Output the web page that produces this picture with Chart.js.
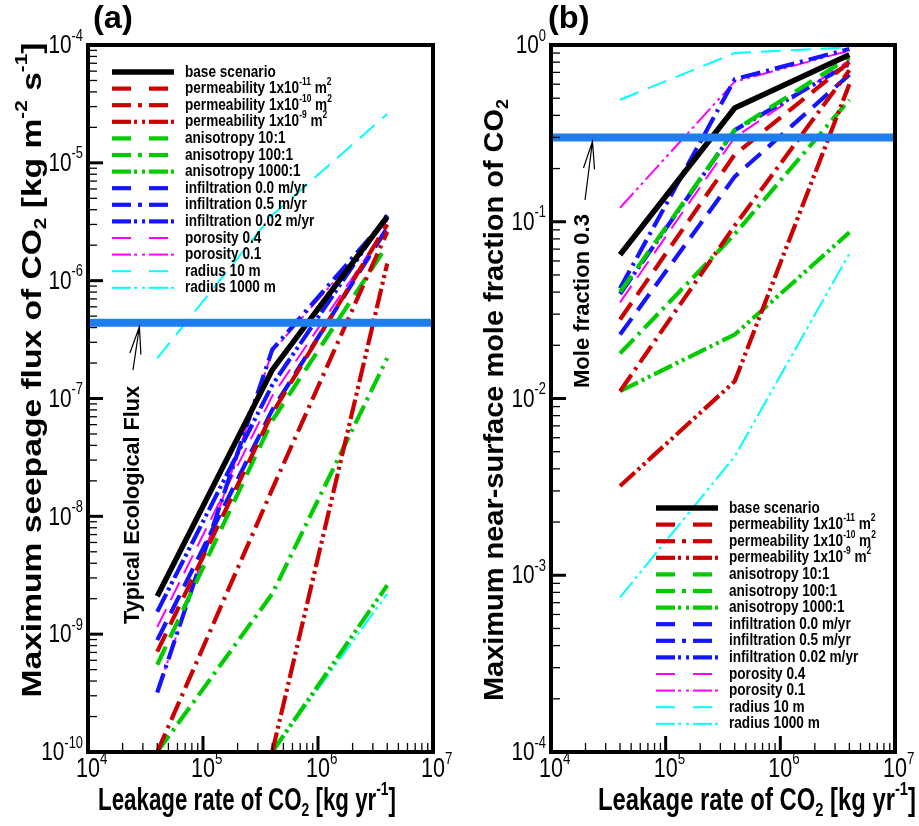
<!DOCTYPE html>
<html lang="en">
<head>
<meta charset="UTF-8">
<title>CO2 leakage sensitivity</title>
<script src="https://cdn.jsdelivr.net/npm/chart.js"></script>
<style>
  body { margin: 0; background: #fff; }
  #wrap { position: relative; width: 919px; height: 826px; }
  canvas { position: absolute; top: 0; }
</style>
</head>
<body>
<div id="wrap">
  <canvas id="chartA" width="460" height="826" style="left:0"></canvas>
  <canvas id="chartB" width="459" height="826" style="left:460px"></canvas>
</div>

<script>
// ---- data ----
const leakRate = [4e4, 4e5, 4e6];   // kg/yr

const seriesLabels = [
  'base scenario',
  'permeability 1x10^{-11} m^{2}',
  'permeability 1x10^{-10} m^{2}',
  'permeability 1x10^{-9} m^{2}',
  'anisotropy 10:1',
  'anisotropy 100:1',
  'anisotropy 1000:1',
  'infiltration 0.0 m/yr',
  'infiltration 0.5 m/yr',
  'infiltration 0.02 m/yr',
  'porosity 0.4',
  'porosity 0.1',
  'radius 10 m',
  'radius 1000 m'
];

// (a) maximum seepage flux [kg m-2 s-1]
const fluxBase      = [2.1e-9, 1.75e-7, 3.5e-6];
const fluxPerm11    = [7.1e-10, 7.5e-8, 3.0e-6];
const fluxPerm10    = [1.0e-10, 1.7e-8, 2.6e-6];
const fluxPerm9     = [null, 1.0e-10, 1.4e-6];
const fluxAniso10   = [5.5e-10, 6.5e-8, 2.0e-6];
const fluxAniso100  = [1.0e-10, 2.2e-9, 2.2e-7];
const fluxAniso1000 = [null, 1.0e-10, 2.6e-9];
const fluxInfil00   = [8.9e-10, 8.0e-8, 2.8e-6];
const fluxInfil05   = [3.2e-10, 2.6e-7, 3.4e-6];
const fluxInfil002  = [1.55e-9, 1.3e-7, 3.6e-6];
const fluxPoro04    = [1.15e-9, 1.05e-7, 2.9e-6];
const fluxPoro01    = [3.2e-10, 2.5e-7, 3.2e-6];
const fluxRad10     = [2.2e-7, 3.6e-6, 2.6e-5];
const fluxRad1000   = [null, 1.0e-10, 2.2e-9];
const ecoFlux = 4.4e-7;

// (b) maximum near-surface mole fraction
const moleBase      = [0.065, 0.44, 0.88];
const molePerm11    = [0.028, 0.24, 0.80];
const molePerm10    = [0.011, 0.095, 0.72];
const molePerm9     = [0.0032, 0.0125, 0.60];
const moleAniso10   = [0.040, 0.33, 0.85];
const moleAniso100  = [0.018, 0.085, 0.49];
const moleAniso1000 = [0.011, 0.023, 0.087];
const moleInfil00   = [0.023, 0.18, 0.68];
const moleInfil05   = [0.042, 0.64, 0.95];
const moleInfil002  = [0.039, 0.33, 0.78];
const molePoro04    = [0.035, 0.30, 0.82];
const molePoro01    = [0.12, 0.62, 0.93];
const moleRad10     = [0.49, 0.90, 0.97];
const moleRad1000   = [0.00075, 0.0047, 0.066];
const moleLimit = 0.3;

const xTicks    = [1e4, 1e5, 1e6, 1e7];
const fluxTicks = [1e-10, 1e-9, 1e-8, 1e-7, 1e-6, 1e-5, 1e-4];
const moleTicks = [1e-4, 1e-3, 1e-2, 1e-1, 1];

// ---- styles ----
const RED = '#cc0000', GREEN = '#00cc00', BLUE = '#1414ff', MAG = '#ff00ff', CYAN = '#00ffff', BAR = '#1e7ef0';
const DASH = [20, 10], DDOT = [20, 6, 3, 6], DDDOT = [20, 4, 3, 4, 3, 4];
const styles = [
  { color: '#000', dash: [], w: 5.5, kind: 's' },
  { color: RED, dash: DASH, w: 4.2, kind: 'd' },
  { color: RED, dash: DDOT, w: 4.2, kind: 'dd' },
  { color: RED, dash: DDDOT, w: 4.2, kind: 'ddd' },
  { color: GREEN, dash: DASH, w: 4.2, kind: 'd' },
  { color: GREEN, dash: DDOT, w: 4.2, kind: 'dd' },
  { color: GREEN, dash: DDDOT, w: 4.2, kind: 'ddd' },
  { color: BLUE, dash: DASH, w: 4.2, kind: 'd' },
  { color: BLUE, dash: DDOT, w: 4.2, kind: 'dd' },
  { color: BLUE, dash: DDDOT, w: 4.2, kind: 'ddd' },
  { color: MAG, dash: DASH, w: 2, kind: 'd' },
  { color: MAG, dash: DDDOT, w: 2, kind: 'ddd' },
  { color: CYAN, dash: DASH, w: 2, kind: 'd' },
  { color: CYAN, dash: DDDOT, w: 2, kind: 'ddd' }
];
const legendSeg = {
  s: [[0, 62]],
  d: [[0, 19], [37, 56]],
  dd: [[0, 19], [26, 30], [37, 56]],
  ddd: [[0, 19], [22, 25], [30, 33], [37, 56], [59, 62]]
};

const FAM = '"Liberation Sans", Arial, sans-serif';

// text with ^{sup} and _{sub}
function richParts(str) {
  const out = [];
  str.split(/(\^\{[^}]*\}|_\{[^}]*\})/).forEach(function (s) {
    if (!s) return;
    if (s.startsWith('^{')) out.push({ t: s.slice(2, -1), k: 1 });
    else if (s.startsWith('_{')) out.push({ t: s.slice(2, -1), k: -1 });
    else out.push({ t: s, k: 0 });
  });
  return out;
}

function drawText(ctx, str, x, y, o) {
  const f = o.size, wt = o.bold ? 'bold ' : '';
  const parts = richParts(str);
  let w = 0;
  parts.forEach(function (p) {
    ctx.font = wt + (p.k ? f * 0.62 : f) + 'px ' + FAM;
    p.w = ctx.measureText(p.t).width;
    w += p.w;
  });
  const along = o.width ? o.width / w : (o.sx || 0.8);
  const across = o.rot ? (o.cross || 0.8) : 1;
  ctx.save();
  ctx.translate(x, y);
  if (o.rot) ctx.rotate(o.rot);
  ctx.scale(along, across);
  let cx = o.align === 'center' ? -w / 2 : (o.align === 'right' ? -w : 0);
  ctx.textBaseline = 'middle';
  ctx.textAlign = 'left';
  ctx.fillStyle = '#000';
  parts.forEach(function (p) {
    ctx.font = wt + (p.k ? f * 0.62 : f) + 'px ' + FAM;
    const dy = p.k === 1 ? -0.38 * f : (p.k === -1 ? 0.3 * f : 0);
    ctx.fillText(p.t, cx, dy);
    cx += p.w;
  });
  ctx.restore();
}

function arrow(ctx, x0, y0, x1, y1) {
  const a = Math.atan2(y1 - y0, x1 - x0), L = 28, h = 0.2;
  ctx.save();
  ctx.strokeStyle = '#000';
  ctx.lineWidth = 1.2;
  ctx.setLineDash([]);
  ctx.beginPath();
  ctx.moveTo(x0, y0); ctx.lineTo(x1, y1);
  ctx.moveTo(x1 - L * Math.cos(a - h), y1 - L * Math.sin(a - h)); ctx.lineTo(x1, y1);
  ctx.lineTo(x1 - L * Math.cos(a + h), y1 - L * Math.sin(a + h));
  ctx.stroke();
  ctx.restore();
}

function makeDatasets(values, limit) {
  const ds = [{
    label: 'limit',
    data: [{ x: xTicks[0], y: limit }, { x: xTicks[xTicks.length - 1], y: limit }],
    borderColor: BAR, borderWidth: 8, clip: 0
  }];
  values.forEach(function (vals, i) {
    ds.push({
      label: seriesLabels[i],
      data: leakRate.map(function (x, j) { return { x: x, y: vals[j] }; }),
      borderColor: styles[i].color,
      borderDash: styles[i].dash,
      borderWidth: styles[i].w,
      borderCapStyle: 'butt',
      clip: 0
    });
  });
  return ds;
}

// frame, ticks, labels, legend and notes
function makeDecor(cfg) {
  return {
    id: 'decor',
    afterDraw: function (chart) {
      const ctx = chart.ctx, ca = chart.chartArea;
      const xs = chart.scales.x, ys = chart.scales.y;
      ctx.save();
      ctx.setLineDash([]);
      ctx.strokeStyle = '#000';

      // minor / major ticks
      function ticks(scale, horiz, decades) {
        for (let d = 0; d < decades.length; d++) {
          const p = scale.getPixelForValue(decades[d]);
          ctx.lineWidth = 3;
          ctx.beginPath();
          if (horiz) { ctx.moveTo(p, ca.bottom); ctx.lineTo(p, ca.bottom - 16); }
          else { ctx.moveTo(ca.left, p); ctx.lineTo(ca.left + 15, p); }
          ctx.stroke();
          if (d === decades.length - 1) break;
          ctx.lineWidth = 1.3;
          for (let m = 2; m <= 9; m++) {
            const q = scale.getPixelForValue(decades[d] * m);
            ctx.beginPath();
            if (horiz) { ctx.moveTo(q, ca.bottom); ctx.lineTo(q, ca.bottom - 9); }
            else { ctx.moveTo(ca.left, q); ctx.lineTo(ca.left + 9, q); }
            ctx.stroke();
          }
        }
      }
      ticks(xs, true, xTicks);
      ticks(ys, false, cfg.yTicks);

      ctx.lineWidth = 4;
      ctx.strokeRect(ca.left, ca.top, ca.right - ca.left, ca.bottom - ca.top);

      // tick labels
      xTicks.forEach(function (v) {
        const e = Math.round(Math.log10(v));
        const p = xs.getPixelForValue(v);
        ctx.font = '27px ' + FAM;
        const w10 = ctx.measureText('10').width * 0.8;
        drawText(ctx, '10^{' + e + '}', p - w10 / 2, ca.bottom + 18, { size: 27, sx: 0.8 });
      });
      cfg.yTicks.forEach(function (v) {
        const e = Math.round(Math.log10(v));
        drawText(ctx, '10^{' + e + '}', ca.left - 5, ys.getPixelForValue(v) + 1, { size: 26, sx: 0.8, align: 'right' });
      });

      // titles
      drawText(ctx, cfg.panel, cfg.panelX, 19, { size: 31, bold: true, sx: 1.05 });
      drawText(ctx, 'Leakage rate of CO_{2} [kg yr^{-1}]', cfg.xTitleX, 801, { size: 31, bold: true, align: 'center', width: cfg.xTitleLen });
      drawText(ctx, cfg.yTitle, cfg.yTitleX, cfg.yTitleY, { size: 31, bold: true, rot: -Math.PI / 2, cross: 0.88, align: 'center', width: cfg.yTitleLen });

      // threshold note
      const n = cfg.note;
      const tipY = ys.getPixelForValue(n.barValue) + 4;
      arrow(ctx, xs.getPixelForValue(n.baseX), ys.getPixelForValue(n.baseY), xs.getPixelForValue(n.tipX), tipY);
      drawText(ctx, n.text, xs.getPixelForValue(n.textX), ys.getPixelForValue(n.textY), { size: 27, bold: true, rot: -Math.PI / 2, cross: 0.82, align: 'center', width: n.len });

      // legend
      seriesLabels.forEach(function (lab, i) {
        const y = cfg.legY + i * 16.6;
        const st = styles[i];
        ctx.strokeStyle = st.color;
        ctx.lineWidth = st.w;
        ctx.lineCap = 'butt';
        legendSeg[st.kind].forEach(function (s) {
          ctx.beginPath();
          ctx.moveTo(cfg.legX + s[0], y); ctx.lineTo(cfg.legX + s[1], y);
          ctx.stroke();
        });
        drawText(ctx, lab, cfg.legX + 73, y, { size: 17, bold: true, sx: 0.8 });
      });
      ctx.restore();
    }
  };
}

function makeChart(id, values, limit, yMin, yMax, pad, cfg) {
  return new Chart(document.getElementById(id), {
    type: 'line',
    data: { datasets: makeDatasets(values, limit) },
    options: {
      responsive: false,
      animation: false,
      layout: { padding: pad },
      plugins: { legend: { display: false }, tooltip: { enabled: false } },
      elements: { point: { radius: 0 }, line: { tension: 0 } },
      scales: {
        x: { type: 'logarithmic', min: 1e4, max: 1e7, display: false },
        y: { type: 'logarithmic', min: yMin, max: yMax, display: false }
      }
    },
    plugins: [makeDecor(cfg)]
  });
}

makeChart('chartA',
  [fluxBase, fluxPerm11, fluxPerm10, fluxPerm9, fluxAniso10, fluxAniso100, fluxAniso1000,
   fluxInfil00, fluxInfil05, fluxInfil002, fluxPoro04, fluxPoro01, fluxRad10, fluxRad1000],
  ecoFlux, 1e-10, 1e-4,
  { left: 88, right: 27, top: 45, bottom: 74 },
  {
    panel: '(a)', panelX: 93, yTicks: fluxTicks,
    xTitleX: 247, xTitleLen: 298, yTitleX: 33, yTitleY: 370, yTitleLen: 655,
    yTitle: 'Maximum seepage flux of CO_{2} [kg m^{-2} s^{-1}]',
    legX: 112, legY: 72,
    note: { text: 'Typical Ecological Flux', barValue: ecoFlux, tipX: 2.8e4, baseX: 2.46e4, baseY: 1.74e-7, textX: 2.46e4, textY: 1.25e-8, len: 238 }
  });

makeChart('chartB',
  [moleBase, molePerm11, molePerm10, molePerm9, moleAniso10, moleAniso100, moleAniso1000,
   moleInfil00, moleInfil05, moleInfil002, molePoro04, molePoro01, moleRad10, moleRad1000],
  moleLimit, 1e-4, 1,
  { left: 91, right: 24, top: 45, bottom: 74 },
  {
    panel: '(b)', panelX: 88, yTicks: moleTicks,
    xTitleX: 297, xTitleLen: 318, yTitleX: 35, yTitleY: 400, yTitleLen: 602,
    yTitle: 'Maximum near-surface mole fraction of CO_{2}',
    legX: 196, legY: 508,
    note: { text: 'Mole fraction 0.3', barValue: moleLimit, tipX: 2.3e4, baseX: 1.98e4, baseY: 0.133, textX: 1.9e4, textY: 0.0356, len: 174 }
  });
</script>
</body>
</html>
